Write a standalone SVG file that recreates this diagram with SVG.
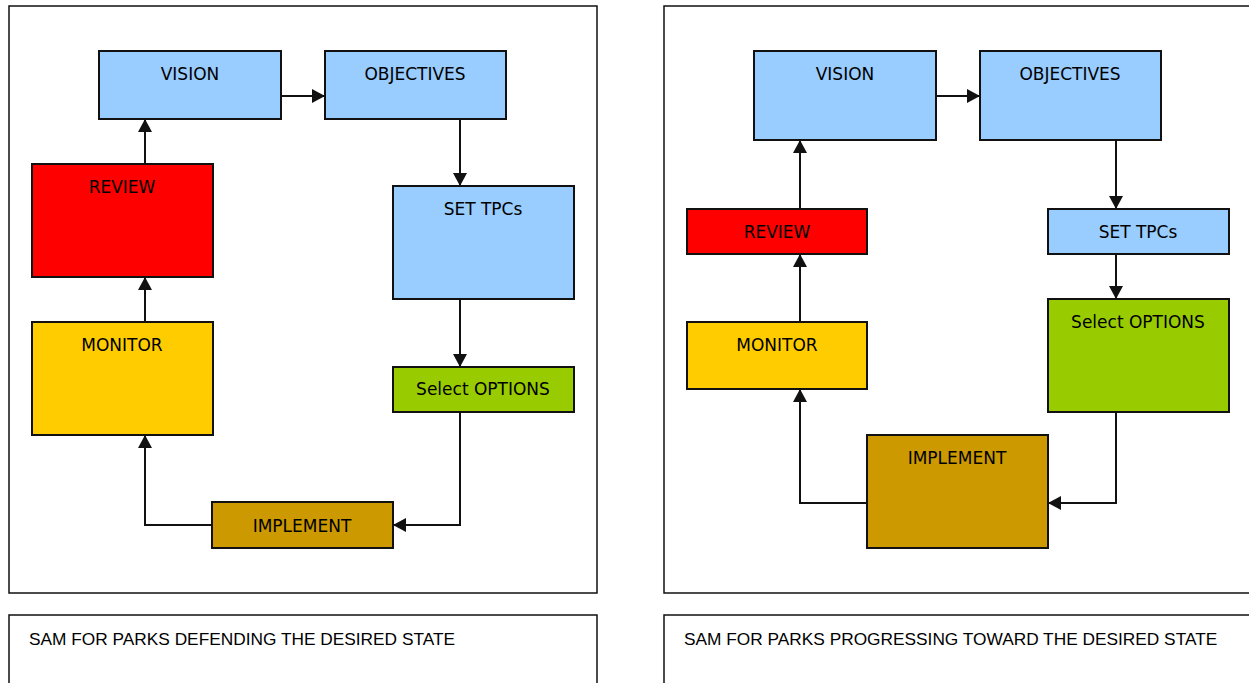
<svg xmlns="http://www.w3.org/2000/svg" width="1249" height="683" viewBox="0 0 1249 683">
<style>
.frame{fill:#fff;stroke:#111;stroke-width:1.5}
.node{stroke:#111;stroke-width:2}
.blue{fill:#99CCFF}.red{fill:#FF0000}.yellow{fill:#FFCC00}.green{fill:#99CC00}.brown{fill:#CC9900}
.lbl{font-family:"DejaVu Sans","Liberation Sans",sans-serif;font-size:17px;fill:#000;text-anchor:middle}
.cap{font-family:"Liberation Sans",sans-serif;font-size:17.3px;fill:#000}
.conn{fill:none;stroke:#111;stroke-width:2}
</style>
<defs>
<marker id="arr" markerUnits="userSpaceOnUse" markerWidth="14" markerHeight="16" refX="13" refY="7" orient="auto">
<path d="M0,0 L13,7 L0,14 Z" fill="#111"/>
</marker>
</defs>
<rect width="1249" height="683" fill="#fff"/>
<g id="panels">
<rect class="frame" x="9" y="6" width="588" height="587"/>
<path class="frame" d="M1249,6 H664 V593 H1249"/>
<path class="frame" d="M9,683 V615 H597 V683"/>
<path class="frame" d="M664,683 V615 H1249"/>
<text class="cap" x="29" y="645">SAM FOR PARKS DEFENDING THE DESIRED STATE</text>
<text class="cap" x="684" y="645">SAM FOR PARKS PROGRESSING TOWARD THE DESIRED STATE</text>
</g>
<g id="connectors">
<path class="conn" d="M281,96 H325" marker-end="url(#arr)"/>
<path class="conn" d="M460,119 V186" marker-end="url(#arr)"/>
<path class="conn" d="M460,299 V367" marker-end="url(#arr)"/>
<path class="conn" d="M460,412 V525 H393" marker-end="url(#arr)"/>
<path class="conn" d="M212,525 H145 V435" marker-end="url(#arr)"/>
<path class="conn" d="M145,322 V277" marker-end="url(#arr)"/>
<path class="conn" d="M145,164 V119" marker-end="url(#arr)"/>
<path class="conn" d="M936,96 H980" marker-end="url(#arr)"/>
<path class="conn" d="M1116,140 V209" marker-end="url(#arr)"/>
<path class="conn" d="M1116,254 V299" marker-end="url(#arr)"/>
<path class="conn" d="M1116,412 V503 H1048" marker-end="url(#arr)"/>
<path class="conn" d="M867,503 H800 V389" marker-end="url(#arr)"/>
<path class="conn" d="M800,322 V254" marker-end="url(#arr)"/>
<path class="conn" d="M800,209 V140" marker-end="url(#arr)"/>
</g>
<g id="L-vision"><rect class="node blue" x="99" y="51" width="182" height="68"/><text class="lbl" x="190" y="80">VISION</text></g>
<g id="L-objectives"><rect class="node blue" x="325" y="51" width="181" height="68"/><text class="lbl" x="415" y="80">OBJECTIVES</text></g>
<g id="L-review"><rect class="node red" x="32" y="164" width="181" height="113"/><text class="lbl" x="122" y="193">REVIEW</text></g>
<g id="L-settpcs"><rect class="node blue" x="393" y="186" width="181" height="113"/><text class="lbl" x="483" y="215">SET TPCs</text></g>
<g id="L-monitor"><rect class="node yellow" x="32" y="322" width="181" height="113"/><text class="lbl" x="122" y="351">MONITOR</text></g>
<g id="L-options"><rect class="node green" x="393" y="367" width="181" height="45"/><text class="lbl" x="483" y="395">Select OPTIONS</text></g>
<g id="L-implement"><rect class="node brown" x="212" y="502" width="181" height="46"/><text class="lbl" x="302" y="532">IMPLEMENT</text></g>
<g id="R-vision"><rect class="node blue" x="754" y="51" width="182" height="89"/><text class="lbl" x="845" y="80">VISION</text></g>
<g id="R-objectives"><rect class="node blue" x="980" y="51" width="181" height="89"/><text class="lbl" x="1070" y="80">OBJECTIVES</text></g>
<g id="R-review"><rect class="node red" x="687" y="209" width="180" height="45"/><text class="lbl" x="777" y="238">REVIEW</text></g>
<g id="R-settpcs"><rect class="node blue" x="1048" y="209" width="181" height="45"/><text class="lbl" x="1138" y="238">SET TPCs</text></g>
<g id="R-monitor"><rect class="node yellow" x="687" y="322" width="180" height="67"/><text class="lbl" x="777" y="351">MONITOR</text></g>
<g id="R-options"><rect class="node green" x="1048" y="299" width="181" height="113"/><text class="lbl" x="1138" y="328">Select OPTIONS</text></g>
<g id="R-implement"><rect class="node brown" x="867" y="435" width="181" height="113"/><text class="lbl" x="957" y="464">IMPLEMENT</text></g>
</svg>
